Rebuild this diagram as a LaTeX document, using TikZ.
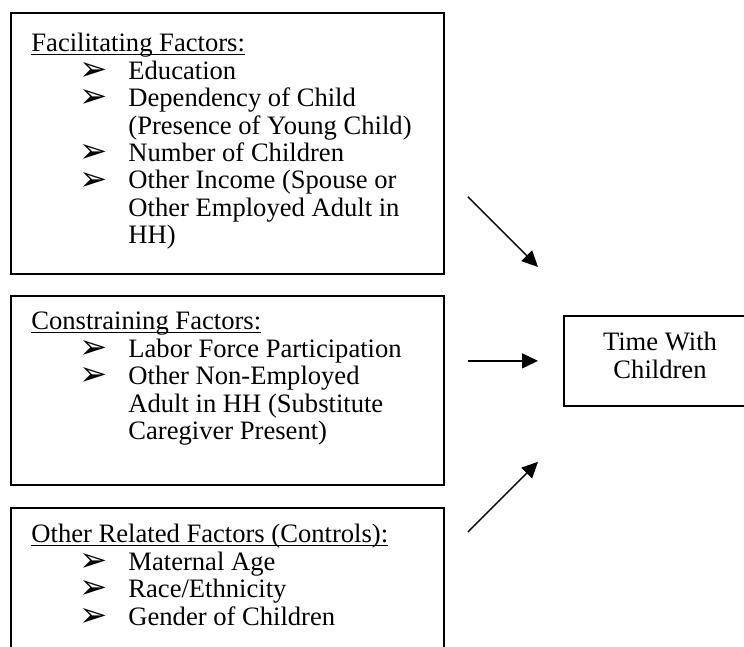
\documentclass[tikz,border=0pt]{standalone}
\usepackage{fontspec}
\usepackage{graphicx}
\setmainfont{Liberation Serif}
\newfontfamily\arrowfont{DejaVu Sans}
\usetikzlibrary{arrows.meta, positioning}

\newcommand{\head}[1]{\setbox0\hbox{#1}\rlap{\rule[-1.6pt]{\wd0}{0.6pt}}\box0}
\newcommand{\itm}{\hspace*{24pt}\makebox[24.5pt][l]{\raisebox{-0.6pt}{\scalebox{1.3}[1.3]{\arrowfont\fontsize{13}{13}\selectfont ➢}}}}
\newcommand{\cont}{\hspace*{48.5pt}}

\begin{document}
\begin{tikzpicture}[
	x=1pt, y=1pt,
	frame/.style={draw, line width=0.9pt, anchor=north west, inner sep=0pt},
	list/.style={anchor=base west, align=left, inner sep=0pt, font=\fontsize{13.3}{13.7}\selectfont},
	flow/.style={-{Triangle[length=8pt, width=7.5pt]}, line width=0.7pt}
]
	\useasboundingbox (0, 0) rectangle (372, 323.5);
	\def\bw{216.5}

	\node[frame, minimum width=\bw, minimum height=130.5] (facil) at (5, 317.5) {};
	\node[frame, minimum width=\bw, minimum height=94.5] (constr) at (5, 176) {};
	\node[frame, minimum width=\bw, minimum height=90] (ctrl) at (5, 70) {};
	\node[frame, minimum width=97, minimum height=45] (time) at (281.5, 166) {};

	% list nodes sit on the baseline of their last line
	\node[list] (facil-txt) at (15.5, 201.6) {\head{Facilitating Factors:}\\
		\itm Education\\
		\itm Dependency of Child\\
		\cont (Presence of Young Child)\\
		\itm Number of Children\\
		\itm Other Income (Spouse or\\
		\cont Other Employed Adult in\\
		\cont HH)};
	\node[list] (constr-txt) at (15.5, 103.7) {\head{Constraining Factors:}\\
		\itm Labor Force Participation\\
		\itm Other Non-Employed\\
		\cont Adult in HH (Substitute\\
		\cont Caregiver Present)};
	\node[list] (ctrl-txt) at (15.5, 10.9) {\head{Other Related Factors (Controls):}\\
		\itm Maternal Age\\
		\itm Race/Ethnicity\\
		\itm Gender of Children};
	\node[align=center, inner sep=0pt, font=\fontsize{13.3}{13.7}\selectfont] (time-txt) at (330, 145.75) {Time With\\Children};

	\draw[flow] ([shift={(11.5, 39)}]facil.south east) -- ([shift={(-12.5, 24)}]time.north west);
	\draw[flow] ([xshift=11.5]constr.east |- time.west) -- ([xshift=-12.5]time.west);
	\draw[flow] ([shift={(11.5, -12.5)}]ctrl.north east) -- ([shift={(-12.5, -27.5)}]time.south west);
\end{tikzpicture}
\end{document}
